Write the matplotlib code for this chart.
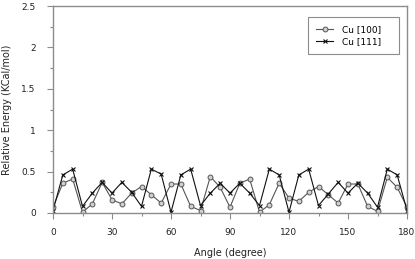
import numpy as np
import matplotlib
matplotlib.use("Agg")
import matplotlib.pyplot as plt
from matplotlib.ticker import MultipleLocator

angles = list(range(0, 181, 5))
cu100 = [0.07, 0.36, 0.41, 0.01, 0.11, 0.37, 0.16, 0.11, 0.24, 0.32,
         0.22, 0.12, 0.35, 0.35, 0.08, 0.03, 0.44, 0.31, 0.07, 0.36,
         0.41, 0.01, 0.10, 0.36, 0.18, 0.14, 0.25, 0.32, 0.22, 0.12,
         0.35, 0.35, 0.08, 0.02, 0.43, 0.31, 0.07]
cu111 = [0.03, 0.46, 0.53, 0.08, 0.24, 0.37, 0.24, 0.37, 0.25, 0.08,
         0.53, 0.47, 0.01, 0.46, 0.53, 0.09, 0.24, 0.36, 0.24, 0.36,
         0.24, 0.09, 0.53, 0.46, 0.01, 0.46, 0.53, 0.09, 0.23, 0.37,
         0.24, 0.36, 0.24, 0.07, 0.53, 0.46, 0.03]
labels = ["Cu [100]", "Cu [111]"]

SPINE = "#8c8c8c"
plt.rcParams["font.family"] = "DejaVu Sans"

fig = plt.figure(figsize=(4.15, 2.59), dpi=100)
ax = fig.add_axes([53 / 415, 1 - 213 / 259, 354 / 415, 207 / 259])

ax.plot(angles, cu100, color="#555555", lw=0.8, marker="o", ms=3.5,
        mfc="#d0d0d0", mec="#555555", mew=0.7, label=labels[0])
ax.plot(angles, cu111, color="#111111", lw=0.8, marker="x", ms=3.5,
        mew=0.8, label=labels[1])

ax.set_xlim(0, 180)
ax.set_ylim(0, 2.5)
ax.xaxis.set_major_locator(MultipleLocator(30))
ax.xaxis.set_minor_locator(MultipleLocator(15))
ax.yaxis.set_minor_locator(MultipleLocator(0.25))
ax.set_yticks([0, 0.5, 1, 1.5, 2, 2.5])
ax.set_yticklabels(["0", "0.5", "1", "1.5", "2", "2.5"])

for s in ax.spines.values():
    s.set_color(SPINE)
    s.set_linewidth(1.0)
ax.tick_params(which="major", length=4.5, width=0.8, color=SPINE,
               labelsize=6.5, labelcolor="#222222", pad=8)
ax.tick_params(axis="x", which="major", pad=6)
ax.tick_params(which="minor", length=2.5, width=0.8, color=SPINE)

ax.set_xlabel("Angle (degree)", fontsize=7, color="#222222", labelpad=8)
ax.set_ylabel("Relative Energy (KCal/mol)", fontsize=7, color="#222222")
ax.yaxis.set_label_coords(-0.117, 0.5)

# legend box stretched to the reference width (mode="expand")
leg = ax.legend(loc="upper left", bbox_to_anchor=(0.72, 0.5, 0.257, 0.447),
                mode="expand", borderaxespad=0, fontsize=6.5,
                fancybox=False, framealpha=1, edgecolor=SPINE,
                handlelength=1.9, handletextpad=1.0, borderpad=0.9,
                labelspacing=0.35)
leg.get_frame().set_linewidth(0.8)

fig.savefig("out.png", dpi=100)
